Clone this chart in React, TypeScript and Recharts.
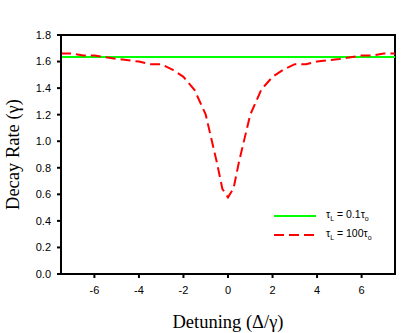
import React from "react";
import {
  Line,
  LineChart,
  ReferenceArea,
  XAxis,
  YAxis
} from "recharts";

const detuning = [-7.5, -7, -6.5, -6, -5, -4, -3.5, -3, -2.5, -2, -1.5, -1, -0.5, -0.25, 0, 0.25, 0.5, 1, 1.5, 2, 2.5, 3, 3.5, 4, 5, 6, 6.5, 7, 7.5];
const rateShort = [1.635, 1.635, 1.635, 1.635, 1.635, 1.635, 1.635, 1.635, 1.635, 1.635, 1.635, 1.635, 1.635, 1.635, 1.635, 1.635, 1.635, 1.635, 1.635, 1.635, 1.635, 1.635, 1.635, 1.635, 1.635, 1.635, 1.635, 1.635, 1.635];
const rateLong = [1.66, 1.66, 1.645, 1.645, 1.62, 1.6, 1.58, 1.58, 1.54, 1.485, 1.385, 1.2, 0.84, 0.64, 0.577, 0.645, 0.85, 1.2, 1.39, 1.485, 1.54, 1.58, 1.58, 1.6, 1.62, 1.645, 1.645, 1.66, 1.66];
const xTicks = [-6, -4, -2, 0, 2, 4, 6];
const yTicks = [0, 0.2, 0.4, 0.6, 0.8, 1.0, 1.2, 1.4, 1.6, 1.8];
const legendItems = [
  { key: "short", color: "#00ff00", dash: undefined, value: "0.1" },
  { key: "long", color: "#ff0000", dash: "10 5", value: "100" }
];

const chartData = detuning.map((d, i) => ({
  d,
  short: rateShort[i],
  long: rateLong[i]
}));

const tickStyle = { fontFamily: "Liberation Sans, Arial", fontSize: 11, fill: "#000" };
const titleFont = "Liberation Serif, Times New Roman, serif";

function LegendBox() {
  return (
    <div
      style={{
        position: "absolute",
        left: 274,
        top: 206,
        fontFamily: "Liberation Sans, Arial",
        fontSize: 10.5,
        color: "#000"
      }}
    >
      {legendItems.map((r) => (
        <div key={r.key} style={{ display: "flex", alignItems: "center", height: 19 }}>
          <svg width={42} height={6} style={{ marginRight: 10 }}>
            <line x1={0} y1={3} x2={42} y2={3} stroke={r.color} strokeWidth={2} strokeDasharray={r.dash} />
          </svg>
          <span>
            τ<sub style={{ fontSize: 7 }}>L</sub> = {r.value}τ<sub style={{ fontSize: 7 }}>o</sub>
          </span>
        </div>
      ))}
    </div>
  );
}

export default function App() {
  return (
    <div style={{ position: "absolute", left: 0, top: 0, width: 414, height: 333, background: "#fff" }}>
      <LineChart width={414} height={333} data={chartData} margin={{ top: 35, right: 19, bottom: 0, left: 0 }}>
        <XAxis
          dataKey="d"
          type="number"
          domain={[-7.5, 7.5]}
          ticks={xTicks}
          height={59}
          tick={tickStyle}
          tickSize={4}
          tickMargin={8}
          stroke="#000"
          strokeWidth={2}
          label={{ value: "Detuning (Δ/γ)", position: "insideBottom", offset: 5, style: { fontFamily: titleFont, fontSize: 18.5, fill: "#000" } }}
        />
        <YAxis
          type="number"
          domain={[0, 1.8]}
          ticks={yTicks}
          width={61}
          tick={tickStyle}
          tickFormatter={(v: number) => v.toFixed(1)}
          tickSize={4}
          tickMargin={6}
          stroke="#000"
          strokeWidth={2}
          label={{ value: "Decay Rate (γ)", angle: -90, position: "center", dx: -18, style: { fontFamily: titleFont, fontSize: 18.5, fill: "#000" } }}
        />
        <ReferenceArea x1={-7.5} x2={7.5} y1={0} y2={1.8} fill="none" stroke="#000" strokeWidth={2} ifOverflow="visible" />
        <Line dataKey="short" stroke="#00ff00" strokeWidth={2} dot={false} isAnimationActive={false} />
        <Line dataKey="long" stroke="#ff0000" strokeWidth={2} strokeDasharray="10 5" dot={false} isAnimationActive={false} />
      </LineChart>
      <LegendBox />
    </div>
  );
}
